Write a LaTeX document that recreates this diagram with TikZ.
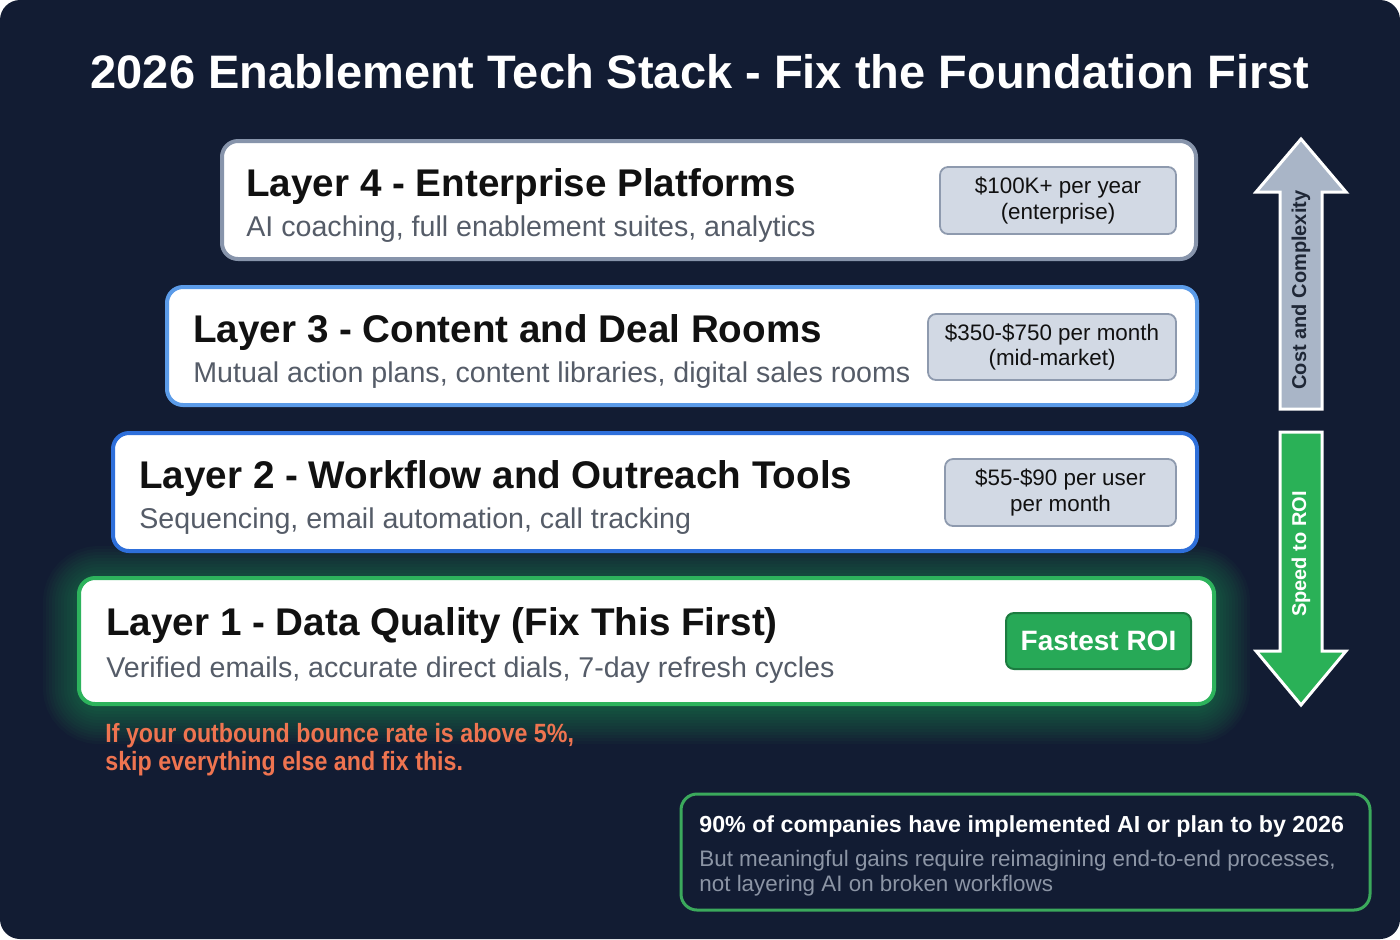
\documentclass[tikz,border=0pt]{standalone}
\usepackage{fontspec}
\setmainfont{Liberation Sans}
\newfontfamily\condfont[FakeStretch=0.88]{Liberation Sans}
\definecolor{bg}{HTML}{121C33}
\definecolor{lfour}{HTML}{8794AB}
\definecolor{lthree}{HTML}{5B9BE8}
\definecolor{ltwo}{HTML}{2E6FDA}
\definecolor{lone}{HTML}{2DB35C}
\definecolor{pricefill}{HTML}{D2D9E4}
\definecolor{priceedge}{HTML}{8E9AAE}
\definecolor{roifill}{HTML}{27A957}
\definecolor{roiedge}{HTML}{1C7C40}
\definecolor{warn}{HTML}{EF7450}
\definecolor{boxedge}{HTML}{3BA95C}
\definecolor{greytext}{HTML}{8C95A5}
\definecolor{subgrey}{HTML}{555C68}
\definecolor{darktext}{HTML}{111111}
\definecolor{arrowgrey}{HTML}{A9B5C7}
\definecolor{arrowtext}{HTML}{1F2736}
\definecolor{arrowgreen}{HTML}{2AB157}
\tikzset{
  layerbox/.style={draw, line width=2pt, fill=white, rounded corners=8pt, inner sep=0pt},
  layertitle/.style={anchor=base west, inner sep=0pt, text=darktext, font=\fontsize{19.3}{23}\selectfont\bfseries},
  layersub/.style={anchor=base west, inner sep=0pt, text=subgrey, font=\fontsize{14.3}{17}\selectfont},
  pricebox/.style={draw=priceedge, line width=0.9pt, fill=pricefill, rounded corners=4pt, inner sep=0pt, align=center, text=darktext, font=\fontsize{11.2}{12.6}\selectfont},
  bigarrow/.style={line width=1.5pt, draw=white, line join=miter},
}
\begin{document}
\begin{tikzpicture}[x=0.5pt,y=-0.5pt]
\useasboundingbox (0,0) rectangle (1400,939);
\fill[white] (0,0) rectangle (1400,939);
\fill[bg, rounded corners=10pt] (0,0) rectangle (1400,939);

% title
\node[anchor=base, inner sep=0pt, text=white, font=\fontsize{23.5}{28}\selectfont\bfseries] (title) at (700,88) {2026 Enablement Tech Stack - Fix the Foundation First};

% glow behind layer 1
\foreach \w in {3,6,...,36}
  \draw[lone, line width=\w pt, opacity=0.04, rounded corners=10pt] (79,582) rectangle (1214,708);

% Layer 4
\node[layerbox, draw=lfour, minimum width=487pt, minimum height=59pt] (l4) at (709,200) {};
\node[layertitle] (l4t) at (246,196) {Layer 4 - Enterprise Platforms};
\node[layersub] (l4s) at (246,236) {AI coaching, full enablement suites, analytics};
\node[pricebox, minimum width=118pt, minimum height=33.5pt] (l4p) at (1058,200.5) {\$100K+ per year\\(enterprise)};

% Layer 3
\node[layerbox, draw=lthree, minimum width=515pt, minimum height=59pt] (l3) at (682,346) {};
\node[layertitle] (l3t) at (193,342) {Layer 3 - Content and Deal Rooms};
\node[layersub] (l3s) at (193,382) {Mutual action plans, content libraries, digital sales rooms};
\node[pricebox, minimum width=124pt, minimum height=33pt] (l3p) at (1052,347) {\$350-\$750 per month\\(mid-market)};

% Layer 2
\node[layerbox, draw=ltwo, minimum width=542pt, minimum height=59pt] (l2) at (655,492) {};
\node[layertitle] (l2t) at (139,488) {Layer 2 - Workflow and Outreach Tools};
\node[layersub] (l2s) at (139,528) {Sequencing, email automation, call tracking};
\node[pricebox, minimum width=115.5pt, minimum height=33.5pt] (l2p) at (1060.5,492.5) {\$55-\$90 per user\\per month};

% Layer 1
\node[layerbox, draw=lone, minimum width=567.5pt, minimum height=63pt] (l1) at (646.5,641) {};
\node[layertitle] (l1t) at (106,635) {Layer 1 - Data Quality (Fix This First)};
\node[layersub] (l1s) at (106,677) {Verified emails, accurate direct dials, 7-day refresh cycles};
\node[draw=roiedge, line width=1pt, fill=roifill, rounded corners=4pt, minimum width=92.5pt, minimum height=28pt, inner sep=0pt, text=white, font=\fontsize{14}{16}\selectfont\bfseries] (roi) at (1098.5,641) {Fastest ROI};

% warning
\node[anchor=north west, inner sep=0pt, align=left, text=warn, font=\condfont\fontsize{13.2}{14}\selectfont\bfseries] (warnt) at (105,723) {If your outbound bounce rate is above 5\%,\\skip everything else and fix this.};

% bottom box
\node[draw=boxedge, line width=1.5pt, fill=bg, rounded corners=8pt, minimum width=344.5pt, minimum height=58pt, inner sep=0pt] (stat) at (1025.5,852) {};
\node[anchor=base west, inner sep=0pt, text=white, font=\fontsize{11.6}{14}\selectfont\bfseries] (statt) at (699,832) {90\% of companies have implemented AI or plan to by 2026};
\node[anchor=base west, inner sep=0pt, text=greytext, font=\fontsize{11.2}{12.6}\selectfont] (stats1) at (699,866) {But meaningful gains require reimagining end-to-end processes,};
\node[anchor=base west, inner sep=0pt, text=greytext, font=\fontsize{11.2}{12.6}\selectfont] (stats2) at (699,891) {not layering AI on broken workflows};

% arrows
\draw[bigarrow, fill=arrowgrey] (1301,139) -- (1346,192) -- (1322,192) -- (1322,409) -- (1280,409) -- (1280,192) -- (1256,192) -- cycle;
\node[rotate=90, inner sep=0pt, text=arrowtext, font=\fontsize{10}{12}\selectfont\bfseries] (costt) at (1301,290) {Cost and Complexity};
\draw[bigarrow, fill=arrowgreen] (1280,432) -- (1322,432) -- (1322,651) -- (1346,651) -- (1301,705) -- (1256,651) -- (1280,651) -- cycle;
\node[rotate=90, inner sep=0pt, text=white, font=\fontsize{10}{12}\selectfont\bfseries] (speedt) at (1301,554) {Speed to ROI};
\end{tikzpicture}
\end{document}
